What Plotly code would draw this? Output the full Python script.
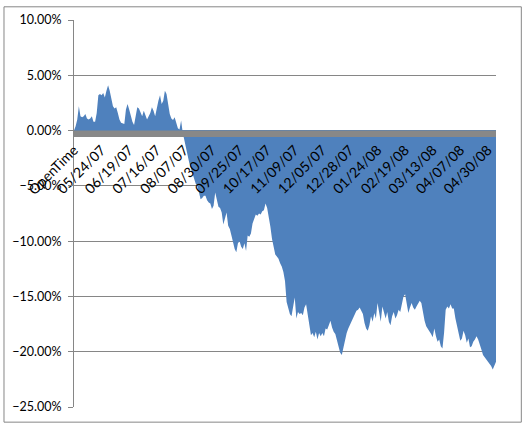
import plotly.graph_objects as go

# Category tick labels (one every 17 trading days)
tick_labels = ["OpenTime", "05/24/07", "06/19/07", "07/16/07", "08/07/07", "08/30/07",
               "09/25/07", "10/17/07", "11/09/07", "12/05/07", "12/28/07", "01/24/08",
               "02/19/08", "03/13/08", "04/07/08", "04/30/08"]
label_step = 17

# Cumulative return (%) per trading day
equity_pct = [
    0.0, 0.4, 1.0, 2.2, 1.3, 1.2, 1.3, 1.5, 1.1, 1.0,
    1.1, 1.3, 0.8, 0.8, 1.6, 3.2, 3.3, 3.2, 3.4, 3.0,
    3.6, 4.1, 3.6, 2.9, 2.2, 2.0, 2.1, 1.6, 1.0, 0.7,
    0.65, 0.6, 1.9, 2.4, 1.9, 1.3, 0.8, 0.5, 1.2, 2.1,
    2.0, 1.7, 1.3, 1.8, 1.4, 1.0, 1.3, 1.6, 2.1, 1.8,
    1.3, 2.1, 2.7, 3.2, 2.4, 2.7, 3.6, 3.3, 2.4, 1.5,
    1.1, 0.95, 1.2, 0.7, 0.2, 0.1, 0.9, -0.2, -0.9, -1.8,
    -2.4, -2.9, -3.4, -3.9, -4.3, -4.8, -5.0, -5.6, -6.2, -6.1,
    -5.9, -5.9, -6.3, -6.5, -6.6, -7.1, -6.8, -5.6, -6.2, -6.9,
    -7.0, -7.4, -8.5, -7.9, -7.4, -8.6, -8.9, -9.5, -10.1, -10.7,
    -11.0, -10.2, -10.0, -10.5, -10.7, -10.2, -10.9, -9.5, -9.6, -9.3,
    -8.4, -7.9, -7.6, -7.7, -7.5, -7.6, -7.3, -7.2, -6.6, -7.0,
    -7.8, -8.7, -9.8, -10.7, -11.2, -11.4, -11.6, -12.0, -12.3, -12.8,
    -13.6, -15.5, -16.2, -16.6, -16.8, -16.0, -15.1, -17.0, -16.4, -16.6,
    -16.5, -16.7, -16.0, -15.7, -16.6, -17.3, -18.5, -18.3, -18.7, -18.2,
    -18.9, -18.3, -18.6, -18.3, -18.6, -17.9, -18.0, -17.6, -17.2, -17.8,
    -18.2, -18.4, -18.9, -19.6, -20.1, -20.3, -19.6, -19.0, -18.3, -17.9,
    -17.6, -17.3, -16.9, -16.6, -16.3, -16.2, -16.0, -16.3, -16.6, -17.4,
    -17.9, -18.1, -17.6, -16.8, -17.3, -16.5, -17.0, -15.6, -16.7, -17.3,
    -15.9, -16.4, -17.0, -16.4, -17.3, -17.6, -16.8, -16.4, -17.0, -16.7,
    -16.2, -16.4, -15.7, -15.0, -14.8, -15.6, -16.5, -16.0, -15.6, -16.0,
    -16.2, -15.9, -15.6, -15.4, -15.6, -16.6, -17.2, -17.7, -17.9, -18.2,
    -18.4, -18.7, -17.9, -18.6, -19.1, -18.9, -19.5, -19.7, -18.3, -16.2,
    -15.9, -16.1, -15.7, -16.1, -16.1, -17.0, -17.6, -18.2, -19.0, -18.8,
    -18.1, -18.5, -19.2, -18.8, -19.6, -19.5, -19.1, -18.9, -18.6, -18.9,
    -19.3, -19.8, -20.3, -20.5, -20.6, -20.9, -21.1, -21.3, -21.6, -21.2,
    -20.9,
]

y_min, y_max = -25, 10

W, H = 524, 426
ml, mr, mt, mb = 71, 28, 14, 16
pw, ph = W - ml - mr, H - mt - mb

x_idx = list(range(len(equity_pct)))
tickvals = [i * label_step for i in range(len(tick_labels))]

yfont = dict(family="Lato, 'Open Sans', sans-serif", size=12.5, color="#000000")
xfont = dict(family="Lato, 'Open Sans', sans-serif", size=14, color="#000000")
gray = "#868686"

fig = go.Figure()
fig.add_trace(go.Scatter(
    x=x_idx, y=equity_pct, mode="lines",
    line=dict(width=0, color="#4F81BD"),
    fill="tozeroy", fillcolor="#4F81BD",
    hoverinfo="skip", showlegend=False,
))

axis_lw = 6
zero_pos = (0 - y_min) / (y_max - y_min) - (axis_lw / 2) / ph

fig.update_layout(
    width=W, height=H,
    margin=dict(l=ml, r=mr, t=mt, b=mb),
    paper_bgcolor="white", plot_bgcolor="white",
    font=yfont,
    xaxis=dict(
        range=[0, len(equity_pct) - 1],
        tickmode="array", tickvals=tickvals, ticktext=tick_labels,
        tickangle=-45, tickfont=xfont,
        showgrid=False, zeroline=False,
        showline=True, linecolor="#888888", linewidth=axis_lw,
        ticks="", anchor="free", position=zero_pos,
        layer="above traces",
    ),
    yaxis=dict(
        range=[y_min, y_max], dtick=5, tick0=0,
        tickformat=".2f", ticksuffix="%", tickfont=yfont,
        showgrid=True, gridcolor=gray, gridwidth=1,
        zeroline=False,
        showline=True, linecolor=gray, linewidth=1,
        ticks="outside", ticklen=5, tickcolor=gray,
        ticklabelstandoff=4,
    ),
    shapes=[dict(
        type="rect", xref="paper", yref="paper",
        x0=(0.5 - ml) / pw, x1=(521.5 - ml) / pw,
        y0=(mt + ph - 425.5) / ph, y1=(mt + ph - 0.5) / ph,
        line=dict(color=gray, width=1), fillcolor="rgba(0,0,0,0)",
    )],
)

fig.write_html("out.html")
